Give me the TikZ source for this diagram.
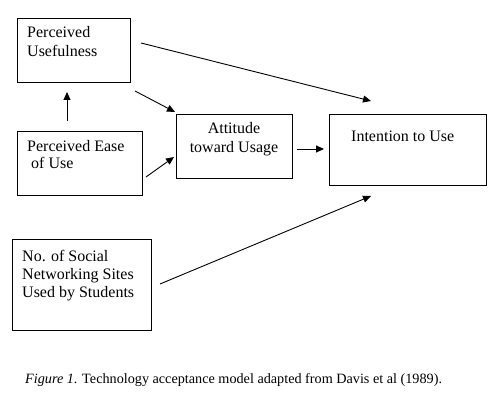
\documentclass[tikz,border=0pt]{standalone}
\usepackage{fontspec}
\setmainfont{Liberation Serif}
\usetikzlibrary{arrows.meta}
\begin{document}
\begin{tikzpicture}[x=1pt,y=-1pt,
  box/.style={draw,line width=0.9pt,inner sep=0pt,anchor=north west},
  txt/.style={inner sep=0pt,anchor=base west,align=left,font=\fontsize{16}{19}\selectfont},
  arr/.style={line width=0.9pt,-{Triangle[length=8pt,width=7pt]}}]
\useasboundingbox[fill=white] (0,0) rectangle (501,401);
% boxes
\node[box,minimum width=113pt,minimum height=64pt] (pu) at (17,18) {};
\node[box,minimum width=125pt,minimum height=64pt] (peou) at (17,131) {};
\node[box,minimum width=116pt,minimum height=64pt] (att) at (176,114) {};
\node[box,minimum width=157pt,minimum height=71pt] (int) at (329,114) {};
\node[box,minimum width=139pt,minimum height=91pt] (sns) at (12,239) {};
% texts (anchor at baseline of last line)
\node[txt] (tpu) at (27,57) {Perceived\\Usefulness};
\node[txt,font=\fontsize{16}{17}\selectfont] (tpeou) at (27,168) {Perceived Ease\\\hspace*{4pt}of Use};
\node[txt,align=center,anchor=base] (tatt) at (234,153) {Attitude\\toward Usage};
\node[txt] (tint) at (351,142) {Intention to Use};
\node[txt,font=\fontsize{16}{18}\selectfont] (tsns) at (22,297) {No. of Social\\Networking Sites\\Used by Students};
\node[inner sep=0pt,anchor=base west,font=\fontsize{14.2}{17}\selectfont] (cap) at (25,383) {\textit{Figure 1}. Technology acceptance model adapted from Davis et al (1989).};
% connector end points
\coordinate (a1s) at (67,121); \coordinate (a1e) at (67,92);
\coordinate (a2s) at (135,91); \coordinate (a2e) at (175,112);
\coordinate (a3s) at (146,177); \coordinate (a3e) at (174,157);
\coordinate (a4s) at (141,43); \coordinate (a4e) at (371,101);
\coordinate (a5s) at (297,149); \coordinate (a5e) at (324,149);
\coordinate (a6s) at (160,284); \coordinate (a6e) at (371,196);
\draw[arr] (a1s) -- (a1e);
\draw[arr] (a2s) -- (a2e);
\draw[arr] (a3s) -- (a3e);
\draw[arr] (a4s) -- (a4e);
\draw[arr] (a5s) -- (a5e);
\draw[arr] (a6s) -- (a6e);
\end{tikzpicture}
\end{document}
